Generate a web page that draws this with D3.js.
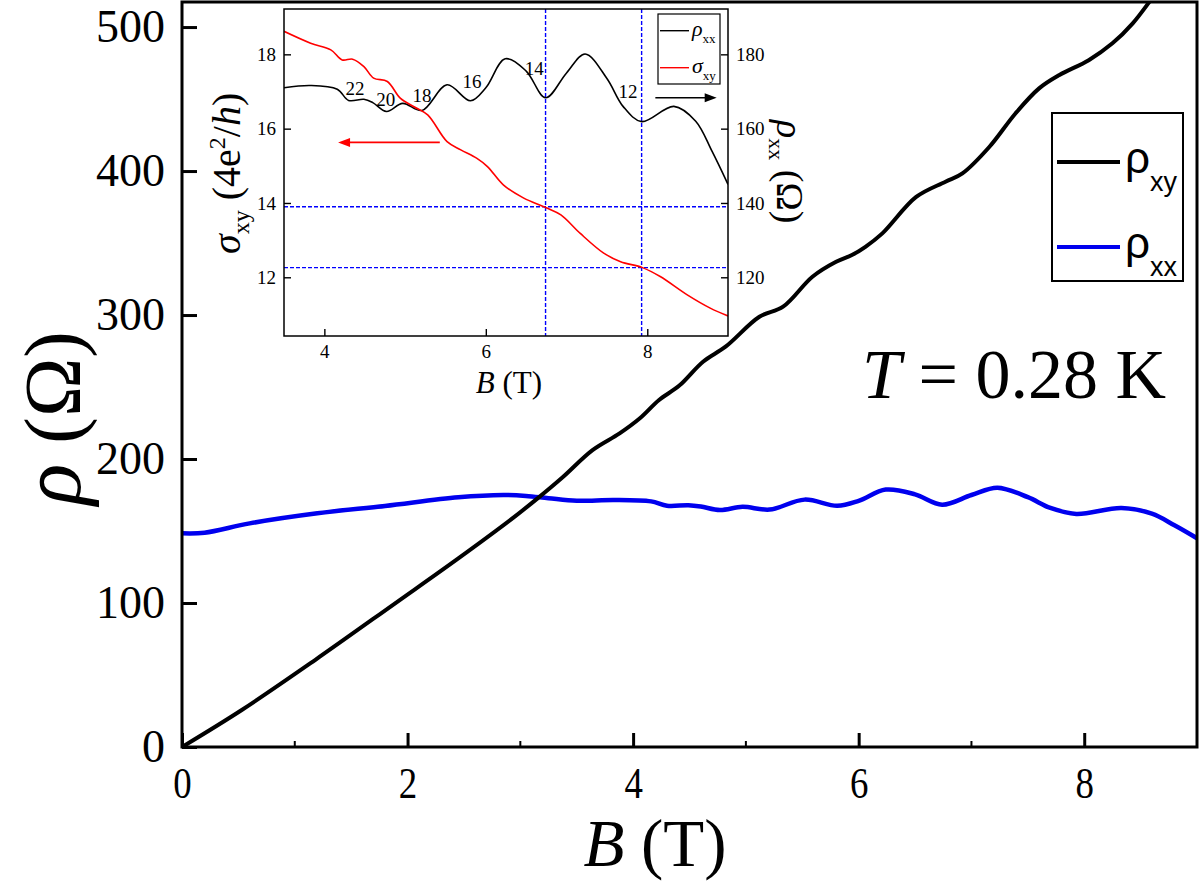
<!DOCTYPE html>
<html>
<head>
<meta charset="utf-8">
<script src="https://cdn.jsdelivr.net/npm/d3@7"></script>
<style>
body{margin:0;background:#fff;}
svg{display:block;}
</style>
</head>
<body>
<svg id="chart" width="1200" height="881"></svg>
<script>
// rho_xy (Ohm) vs B (T), main panel
var rhoxyB=[0,0.53,1.18,1.89,2.45,2.95,3.15,3.37,3.64,3.88,4.06,4.23,4.41,4.62,4.82,5.12,5.33,5.59,5.80,5.94,6.06,6.21,6.51,6.77,6.92,7.16,7.39,7.60,7.78,8.04,8.25,8.43,8.59,8.65];
var rhoxy=[0,25.7,60.4,99.8,131,160,172.5,187,206.2,217.8,228.3,241,251,267.6,278,298.8,305.8,326.6,337,341.7,347.4,356.7,382,392.6,398.4,416.9,440,457.4,466.7,477,488.7,502.6,518.8,525];
// rho_xx (Ohm) vs B (T), main panel and inset
var rhoxxB=[0,0.2,0.6,1.2,1.8,2.45,2.85,3.05,3.25,3.5,3.83,4.16,4.3,4.49,4.6,4.77,4.97,5.21,5.52,5.81,6.0,6.24,6.5,6.74,7.0,7.23,7.5,7.7,7.93,8.33,8.6,8.8,9.0];
var rhoxx=[148.4,148.8,155.3,162.3,167.4,173.4,175,174.4,172.8,171,171.6,170.6,167.6,167.9,167,164.6,166.8,164.9,171.8,167.5,171,178.8,175.5,168.3,175,180.1,173.5,166,161.9,166,162,154,145];
// sigma_xy (4e^2/h) vs B (T), inset
var sigmaB=[3.5,3.83,4.08,4.22,4.35,4.49,4.61,4.78,4.94,5.11,5.28,5.52,5.69,5.89,6.02,6.22,6.47,6.74,6.93,7.17,7.46,7.67,7.94,8.16,8.5,8.78,9.0];
var sigma=[18.62,18.30,18.12,17.85,17.87,17.67,17.36,17.27,16.82,16.59,16.37,15.65,15.43,15.20,14.98,14.48,14.13,13.88,13.68,13.18,12.65,12.42,12.26,12.02,11.52,11.17,10.96];
// filling factor labels on the inset rho_xx curve
var nuLabels=['22','20','18','16','14','12'];
var nuB=[4.38,4.76,5.21,5.83,6.60,7.76];
var nuRho=[170.9,168,168.9,172.6,176.3,170];
// dashed guide lines in the inset
var guideB=[6.74,7.93];
var guideSigma=[13.9,12.26];

var mainXTicks=[0,2,4,6,8];
var mainXMinor=[1,3,5,7];
var mainYTicks=[0,100,200,300,400,500];
var insetXTicks=[4,6,8];
var insetLTicks=[12,14,16,18];
var insetRTicks=[120,140,160,180];

var serif='"Liberation Serif","Times New Roman",serif';
var sans='"Liberation Sans",Arial,sans-serif';
var svg=d3.select('#chart');
var defs=svg.append('defs');

// ---------- main panel ----------
var x=d3.scaleLinear().domain([0,9]).range([182,1197]);
var y=d3.scaleLinear().domain([0,517.4]).range([747,2]);

defs.append('clipPath').attr('id','mainclip').append('rect')
  .attr('x',182).attr('y',2).attr('width',1015).attr('height',745);

var line=d3.line().curve(d3.curveCatmullRom.alpha(0.5))
  .x(d=>x(d[0])).y(d=>y(d[1]));

svg.append('path').datum(d3.zip(rhoxxB,rhoxx))
  .attr('d',line).attr('fill','none').attr('stroke','#0000ee')
  .attr('stroke-width',4.5).attr('clip-path','url(#mainclip)');
svg.append('path').datum(d3.zip(rhoxyB,rhoxy))
  .attr('d',line).attr('fill','none').attr('stroke','#000')
  .attr('stroke-width',4).attr('clip-path','url(#mainclip)');

var gx=svg.append('g').attr('transform','translate(0,747)')
  .call(d3.axisBottom(x).tickValues(mainXTicks).tickSizeInner(-14).tickSizeOuter(0).tickPadding(19).tickFormat(d3.format('d')));
gx.select('.domain').remove();
gx.selectAll('line').attr('stroke','#000').attr('stroke-width',3);
gx.selectAll('text').attr('font-family',serif).attr('font-size',45).attr('fill','#000')
  .attr('transform','scale(0.82,1)');

svg.selectAll('.xminor').data(mainXMinor).join('line').attr('class','xminor')
  .attr('x1',d=>x(d)).attr('x2',d=>x(d)).attr('y1',747).attr('y2',741)
  .attr('stroke','#000').attr('stroke-width',2);

var gy=svg.append('g').attr('transform','translate(182,0)')
  .call(d3.axisLeft(y).tickValues(mainYTicks).tickSizeInner(-15).tickSizeOuter(0).tickPadding(17).tickFormat(d3.format('d')));
gy.select('.domain').remove();
gy.selectAll('line').attr('stroke','#000').attr('stroke-width',3);
gy.selectAll('text').attr('font-family',serif).attr('font-size',46).attr('fill','#000');

svg.append('rect').attr('x',182).attr('y',2).attr('width',1015).attr('height',745)
  .attr('fill','none').attr('stroke','#000').attr('stroke-width',3);

// axis titles
var xt=svg.append('text').attr('x',655).attr('y',866).attr('text-anchor','middle')
  .attr('font-family',serif).attr('font-size',67);
xt.append('tspan').attr('font-style','italic').text('B');
xt.append('tspan').text(' (T)');

var yt=svg.append('text').attr('transform','translate(80,418) rotate(-90)')
  .attr('text-anchor','middle').attr('font-family',serif).attr('font-size',80);
yt.append('tspan').attr('font-style','italic').attr('font-size',86).text('ρ');
yt.append('tspan').text(' (Ω)');

// temperature
var tt=svg.append('text').attr('x',862).attr('y',398)
  .attr('font-family',serif).attr('font-size',70);
tt.append('tspan').attr('font-style','italic').text('T');
tt.append('tspan').text(' = 0.28 K');

// main legend
var leg=svg.append('g');
leg.append('rect').attr('x',1052).attr('y',113).attr('width',131).attr('height',168)
  .attr('fill','#fff').attr('stroke','#000').attr('stroke-width',2);
var legItems=[{c:'#000',s:'xy',y:162},{c:'#0000ee',s:'xx',y:247}];
legItems.forEach(function(it){
  leg.append('line').attr('x1',1057).attr('x2',1120).attr('y1',it.y).attr('y2',it.y)
    .attr('stroke',it.c).attr('stroke-width',4);
  var t=leg.append('text').attr('x',1125).attr('y',it.y+11).attr('font-family',sans).attr('font-size',44);
  t.append('tspan').text('ρ');
  t.append('tspan').attr('font-size',27).attr('dy',18).text(it.s);
});

// ---------- inset ----------
var ix=d3.scaleLinear().domain([3.5,9]).range([284,728]);
var iyL=d3.scaleLinear().domain([10.42,19.22]).range([336,9]);
var iyR=d3.scaleLinear().domain([104.2,192.2]).range([336,9]);
var inset=svg.append('g');

inset.append('rect').attr('x',284).attr('y',9).attr('width',444).attr('height',327).attr('fill','#fff');
defs.append('clipPath').attr('id','insetclip').append('rect')
  .attr('x',284).attr('y',9).attr('width',444).attr('height',327);

inset.selectAll('.vg').data(guideB).join('line').attr('class','vg')
  .attr('x1',d=>ix(d)).attr('x2',d=>ix(d)).attr('y1',9).attr('y2',336)
  .attr('stroke','#0000ff').attr('stroke-width',1.4).attr('stroke-dasharray','4,2');
inset.selectAll('.hg').data(guideSigma).join('line').attr('class','hg')
  .attr('x1',284).attr('x2',728).attr('y1',d=>iyL(d)).attr('y2',d=>iyL(d))
  .attr('stroke','#0000ff').attr('stroke-width',1.4).attr('stroke-dasharray','4,2');

var lineR=d3.line().curve(d3.curveCatmullRom.alpha(0.5)).x(d=>ix(d[0])).y(d=>iyR(d[1]));
var lineL=d3.line().curve(d3.curveCatmullRom.alpha(0.5)).x(d=>ix(d[0])).y(d=>iyL(d[1]));
inset.append('path').datum(d3.zip(rhoxxB,rhoxx).filter(d=>d[0]>=3.4))
  .attr('d',lineR).attr('fill','none').attr('stroke','#000').attr('stroke-width',1.6)
  .attr('clip-path','url(#insetclip)');
inset.append('path').datum(d3.zip(sigmaB,sigma))
  .attr('d',lineL).attr('fill','none').attr('stroke','#ff0000').attr('stroke-width',1.6)
  .attr('clip-path','url(#insetclip)');

function styleAxis(g){
  g.select('.domain').remove();
  g.selectAll('line').attr('stroke','#000').attr('stroke-width',1.4);
  g.selectAll('text').attr('font-family',serif).attr('font-size',19).attr('fill','#000');
}
inset.append('g').attr('transform','translate(0,336)')
  .call(d3.axisBottom(ix).tickValues(insetXTicks).tickSizeInner(-7).tickSizeOuter(0).tickPadding(9).tickFormat(d3.format('d')))
  .call(styleAxis);
inset.append('g').attr('transform','translate(284,0)')
  .call(d3.axisLeft(iyL).tickValues(insetLTicks).tickSizeInner(-7).tickSizeOuter(0).tickPadding(8).tickFormat(d3.format('d')))
  .call(styleAxis);
inset.append('g').attr('transform','translate(728,0)')
  .call(d3.axisRight(iyR).tickValues(insetRTicks).tickSizeInner(-7).tickSizeOuter(0).tickPadding(8).tickFormat(d3.format('d')))
  .call(styleAxis);

inset.append('rect').attr('x',284).attr('y',9).attr('width',444).attr('height',327)
  .attr('fill','none').attr('stroke','#000').attr('stroke-width',1.5);

// filling factor labels
inset.selectAll('.nu').data(nuLabels).join('text').attr('class','nu')
  .attr('x',(d,i)=>ix(nuB[i])).attr('y',(d,i)=>iyR(nuRho[i])).attr('dy','0.35em')
  .attr('text-anchor','middle').attr('font-family',serif).attr('font-size',19).text(d=>d);

// arrows
function arrow(x1,x2,yy,col){
  var dir=x2>x1?1:-1;
  inset.append('line').attr('x1',x1).attr('x2',x2-dir*8).attr('y1',yy).attr('y2',yy)
    .attr('stroke',col).attr('stroke-width',1.6);
  inset.append('path').attr('d','M'+x2+','+yy+'L'+(x2-dir*12)+','+(yy-4.5)+'L'+(x2-dir*12)+','+(yy+4.5)+'Z')
    .attr('fill',col);
}
arrow(ix(5.43),ix(4.17),iyL(15.63),'#ff0000');
arrow(ix(8.10),ix(8.86),iyR(168.3),'#000');

// inset legend
inset.append('rect').attr('x',658).attr('y',14).attr('width',62).attr('height',70)
  .attr('fill','#fff').attr('stroke','#000').attr('stroke-width',1.2);
var ilItems=[{c:'#000',g:'ρ',s:'xx',y:30.7},{c:'#ff0000',g:'σ',s:'xy',y:67.7}];
ilItems.forEach(function(it){
  inset.append('line').attr('x1',660).attr('x2',689).attr('y1',it.y).attr('y2',it.y)
    .attr('stroke',it.c).attr('stroke-width',1.4);
  var t=inset.append('text').attr('x',692).attr('y',it.y+5).attr('font-family',serif).attr('font-size',22);
  t.append('tspan').attr('font-style','italic').text(it.g);
  t.append('tspan').attr('font-size',13).attr('dy',7).text(it.s);
});

// inset axis titles
var ixt=inset.append('text').attr('x',509).attr('y',393).attr('text-anchor','middle')
  .attr('font-family',serif).attr('font-size',31);
ixt.append('tspan').attr('font-style','italic').text('B');
ixt.append('tspan').text(' (T)');

var ilt=inset.append('text').attr('transform','translate(240,254) rotate(-90)')
  .attr('font-family',serif).attr('font-size',40);
ilt.append('tspan').attr('font-style','italic').text('σ');
ilt.append('tspan').attr('font-size',24).attr('dy',9).text('xy');
ilt.append('tspan').attr('dy',-9).text(' (4e');
ilt.append('tspan').attr('font-size',24).attr('dy',-15).text('2');
ilt.append('tspan').attr('dy',15).text('/');
ilt.append('tspan').attr('font-style','italic').text('h');
ilt.append('tspan').text(')');

var irt=inset.append('text').attr('transform','translate(777,120) rotate(90)')
  .attr('font-family',serif).attr('font-size',38);
irt.append('tspan').attr('font-style','italic').text('ρ');
irt.append('tspan').attr('font-size',22).attr('dy',8).text('xx');
irt.append('tspan').attr('dy',-8).text(' (Ω)');
</script>
</body>
</html>
